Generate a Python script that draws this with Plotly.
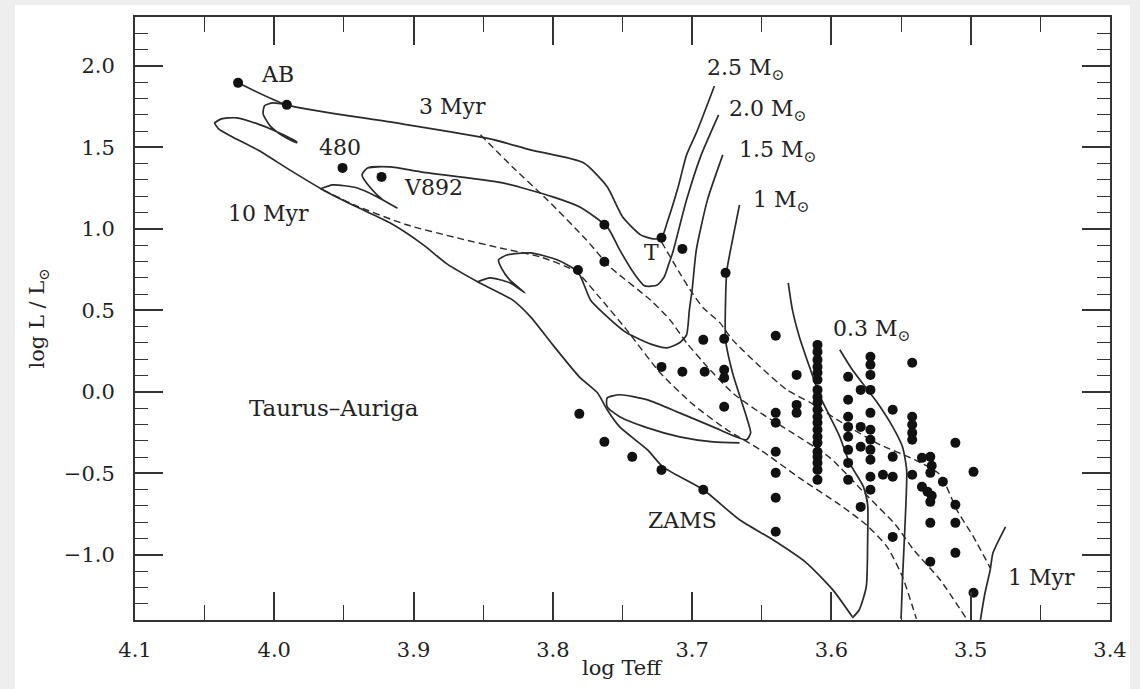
import plotly.graph_objects as go

# ---------------- evolutionary tracks (log Teff, log L/Lsun) ----------------
trk25_t = [4.026, 3.991, 3.917, 3.845, 3.816, 3.778, 3.761, 3.750, 3.737, 3.728,
           3.722, 3.718, 3.710, 3.704, 3.697, 3.684]
trk25_l = [1.896, 1.761, 1.656, 1.552, 1.485, 1.405, 1.258, 1.074, 0.963, 0.939,
           0.945, 1.037, 1.258, 1.454, 1.589, 1.877]

hook25_t = [3.991, 4.001, 4.007, 4.008, 4.003, 3.994, 3.984, 3.984, 4.001, 4.012,
            4.027, 4.038, 4.043]
hook25_l = [1.761, 1.773, 1.755, 1.706, 1.632, 1.571, 1.528, 1.534, 1.607, 1.644,
            1.681, 1.675, 1.650]

trk20_t = [3.681, 3.694, 3.704, 3.714, 3.717, 3.720, 3.725, 3.734, 3.742, 3.752,
           3.761, 3.781, 3.800, 3.836, 3.895, 3.917, 3.933, 3.937, 3.931, 3.922,
           3.912, 3.926, 3.941, 3.958, 3.967]
trk20_l = [1.699, 1.442, 1.178, 0.853, 0.779, 0.706, 0.656, 0.650, 0.730, 0.871,
           1.012, 1.135, 1.196, 1.282, 1.350, 1.380, 1.374, 1.331, 1.252, 1.178,
           1.129, 1.196, 1.252, 1.270, 1.245]

trk15_t = [3.678, 3.689, 3.697, 3.700, 3.702, 3.704, 3.709, 3.718, 3.728, 3.747,
           3.764, 3.773, 3.782, 3.797, 3.816, 3.833, 3.839, 3.837, 3.831, 3.820,
           3.831, 3.845, 3.854]
trk15_l = [1.454, 1.178, 0.871, 0.626, 0.503, 0.350, 0.301, 0.270, 0.288, 0.362,
           0.485, 0.564, 0.736, 0.810, 0.853, 0.840, 0.810, 0.761, 0.687, 0.607,
           0.669, 0.699, 0.675]

trk10_t = [3.666, 3.671, 3.675, 3.676, 3.676, 3.671, 3.661, 3.658, 3.661, 3.685,
           3.709, 3.732, 3.752, 3.761, 3.761, 3.752, 3.732, 3.709, 3.685, 3.666]
trk10_l = [1.147, 0.933, 0.748, 0.564, 0.319, 0.117, -0.153, -0.252, -0.294, -0.215,
           -0.129, -0.049, -0.018, -0.037, -0.092, -0.153, -0.221, -0.276, -0.307, -0.313]

trk06_t = [3.631, 3.628, 3.623, 3.615, 3.608, 3.601, 3.594, 3.587, 3.577, 3.574,
           3.574, 3.575, 3.580, 3.585]
trk06_l = [0.669, 0.503, 0.337, 0.135, -0.031, -0.153, -0.276, -0.436, -0.583, -0.693,
           -0.908, -1.196, -1.337, -1.387]

trk03_t = [3.594, 3.585, 3.567, 3.556, 3.549, 3.546, 3.547, 3.549, 3.550]
trk03_l = [0.258, 0.135, -0.067, -0.215, -0.337, -0.479, -0.785, -1.153, -1.393]

trk01_t = [3.475, 3.484, 3.486, 3.490, 3.493]
trk01_l = [-0.828, -0.988, -1.092, -1.245, -1.399]

# zero-age main sequence
zams_t = [4.043, 4.040, 4.030, 4.012, 3.989, 3.965, 3.941, 3.917, 3.893, 3.876,
          3.854, 3.829, 3.816, 3.800, 3.781, 3.768, 3.761, 3.752, 3.732, 3.721,
          3.692, 3.666, 3.642, 3.618, 3.599, 3.585]
zams_l = [1.650, 1.613, 1.564, 1.485, 1.362, 1.239, 1.135, 1.037, 0.902, 0.785,
          0.675, 0.564, 0.460, 0.288, 0.092, -0.006, -0.110, -0.215, -0.356, -0.460,
          -0.601, -0.785, -0.908, -1.049, -1.215, -1.380]

# ---------------- isochrones ----------------
iso1_t = [3.722, 3.709, 3.700, 3.692, 3.680, 3.671, 3.651, 3.632, 3.615, 3.590,
          3.565, 3.540, 3.522, 3.510, 3.498, 3.486]
iso1_l = [0.920, 0.730, 0.607, 0.515, 0.423, 0.319, 0.153, 0.012, -0.067, -0.202,
          -0.325, -0.417, -0.509, -0.724, -0.890, -1.080]

iso3_t = [3.852, 3.829, 3.804, 3.776, 3.759, 3.730, 3.716, 3.704, 3.689, 3.671,
          3.651, 3.628, 3.601, 3.575, 3.554, 3.541, 3.522, 3.503]
iso3_l = [1.577, 1.380, 1.178, 0.933, 0.767, 0.564, 0.442, 0.301, 0.153, -0.006,
          -0.129, -0.252, -0.405, -0.632, -0.816, -0.969, -1.153, -1.393]

iso10_t = [3.965, 3.941, 3.905, 3.869, 3.838, 3.809, 3.783, 3.768, 3.747, 3.723,
           3.699, 3.675, 3.651, 3.623, 3.594, 3.575, 3.560, 3.549, 3.539]
iso10_l = [1.239, 1.141, 1.025, 0.945, 0.883, 0.828, 0.736, 0.595, 0.380, 0.117,
           -0.080, -0.233, -0.356, -0.528, -0.693, -0.816, -0.951, -1.135, -1.393]

# ---------------- Taurus-Auriga stars ----------------
star_t = [4.026, 3.991, 3.951, 3.923, 3.763, 3.722, 3.707, 3.763, 3.782, 3.676,
          3.692, 3.677, 3.640, 3.722, 3.707, 3.691, 3.677, 3.677, 3.677, 3.781,
          3.763, 3.743, 3.722, 3.692,
          3.640, 3.640, 3.640, 3.640, 3.640, 3.640,
          3.625, 3.625, 3.625,
          3.610, 3.610, 3.610, 3.610, 3.610, 3.610, 3.610, 3.610, 3.610, 3.610,
          3.610, 3.610, 3.610, 3.610, 3.610, 3.610, 3.610, 3.610, 3.610, 3.610,
          3.588, 3.588, 3.588, 3.588, 3.588, 3.588, 3.588, 3.588,
          3.579, 3.579, 3.579, 3.579,
          3.572, 3.572, 3.572, 3.572, 3.572, 3.572, 3.572, 3.572, 3.572, 3.572, 3.572,
          3.556, 3.556, 3.556, 3.556, 3.563,
          3.542, 3.542, 3.542, 3.542, 3.542, 3.542,
          3.535, 3.529, 3.528, 3.529, 3.535, 3.531, 3.528, 3.529,
          3.520, 3.511, 3.498, 3.511, 3.511, 3.511, 3.529, 3.529, 3.498]
star_l = [1.896, 1.761, 1.374, 1.319, 1.025, 0.945, 0.877, 0.798, 0.748, 0.730,
          0.319, 0.325, 0.344, 0.153, 0.123, 0.123, 0.135, 0.086, -0.092, -0.135,
          -0.307, -0.399, -0.479, -0.601,
          -0.129, -0.190, -0.368, -0.497, -0.650, -0.859,
          0.104, -0.080, -0.129,
          0.288, 0.245, 0.196, 0.153, 0.117, 0.074, 0.012, -0.031, -0.067, -0.110,
          -0.153, -0.190, -0.233, -0.276, -0.313, -0.368, -0.399, -0.436, -0.479, -0.540,
          0.092, -0.049, -0.153, -0.215, -0.276, -0.356, -0.436, -0.540,
          0.012, -0.215, -0.337, -0.706,
          0.215, 0.166, 0.104, 0.012, -0.129, -0.233, -0.294, -0.356, -0.417, -0.521, -0.601,
          -0.110, -0.399, -0.521, -0.890, -0.509,
          0.178, -0.153, -0.202, -0.252, -0.294, -0.509,
          -0.405, -0.399, -0.454, -0.497, -0.583, -0.613, -0.638, -0.675,
          -0.552, -0.313, -0.491, -0.693, -0.804, -0.988, -0.804, -1.043, -1.233]

LINE = "#2a2a2a"
FONT = "DejaVu Serif"

fig = go.Figure()

# solid lines: mass tracks and the ZAMS
solid = [(trk25_t, trk25_l), (hook25_t, hook25_l), (trk20_t, trk20_l),
         (trk15_t, trk15_l), (trk10_t, trk10_l), (trk06_t, trk06_l),
         (trk03_t, trk03_l), (trk01_t, trk01_l), (zams_t, zams_l)]
for xs, ys in solid:
    fig.add_trace(go.Scatter(x=xs, y=ys, mode="lines",
                             line=dict(color=LINE, width=1.7, shape="spline", smoothing=0.6),
                             hoverinfo="skip", showlegend=False))

# dashed lines: isochrones
for xs, ys in [(iso1_t, iso1_l), (iso3_t, iso3_l), (iso10_t, iso10_l)]:
    fig.add_trace(go.Scatter(x=xs, y=ys, mode="lines",
                             line=dict(color=LINE, width=1.4, dash="7px,4px",
                                       shape="spline", smoothing=0.6),
                             hoverinfo="skip", showlegend=False))

fig.add_trace(go.Scatter(x=star_t, y=star_l, mode="markers",
                         marker=dict(color="#111111", size=10),
                         showlegend=False))

labels = [
    ("AB", 3.998, 1.945, "center", 22),
    ("3 Myr", 3.872, 1.748, "center", 22),
    ("480", 3.953, 1.497, "center", 22),
    ("V892", 3.886, 1.252, "center", 22),
    ("10 Myr", 4.004, 1.092, "center", 22),
    ("2.5 M<sub>\u2299</sub>", 3.691, 1.975, "left", 22),
    ("2.0 M<sub>\u2299</sub>", 3.675, 1.728, "left", 22),
    ("1.5 M<sub>\u2299</sub>", 3.668, 1.477, "left", 22),
    ("1 M<sub>\u2299</sub>", 3.658, 1.170, "left", 22),
    ("T", 3.729, 0.853, "center", 22),
    ("0.3 M<sub>\u2299</sub>", 3.600, 0.379, "left", 22),
    ("Taurus\u2013Auriga", 3.957, -0.098, "center", 23),
    ("ZAMS", 3.707, -0.791, "center", 22),
    ("1 Myr", 3.449, -1.141, "center", 22),
]
for txt, x, y, anchor, size in labels:
    fig.add_annotation(x=x, y=y, xref="x", yref="y", text=txt, showarrow=False,
                       xanchor=anchor, yanchor="middle",
                       font=dict(family=FONT, size=size, color="#222"))

# axis titles
fig.add_annotation(x=0.5, y=-0.08, xref="paper", yref="paper", text="log Teff",
                   showarrow=False, xanchor="center", yanchor="middle",
                   font=dict(family=FONT, size=21, color="#222"))
fig.add_annotation(x=-0.0995, y=0.5, xref="paper", yref="paper",
                   text="log L / L<sub>\u2299</sub>", textangle=-90,
                   showarrow=False, xanchor="center", yanchor="middle",
                   font=dict(family=FONT, size=21, color="#222"))

# white card over the light grey page edge
fig.add_shape(type="rect", xref="paper", yref="paper",
              x0=-0.1231, x1=1.0205, y0=-0.1144, y1=1.0199,
              fillcolor="white", line=dict(width=0), layer="below")

axis_common = dict(showgrid=False, zeroline=False, showline=True, linecolor="#333",
                   linewidth=2, mirror="ticks", ticks="inside", tickcolor="#333",
                   tickwidth=1.5, tickfont=dict(family=FONT, size=21, color="#222"),
                   tickformat=".1f")

fig.update_xaxes(range=[4.1, 3.4], tick0=4.1, dtick=0.1, ticklen=28,
                 ticklabelstandoff=10,
                 minor=dict(dtick=0.05, ticklen=15, tickwidth=1.2, ticks="inside",
                            tickcolor="#333"),
                 **axis_common)
fig.update_yaxes(range=[-1.4, 2.3], tick0=0, dtick=0.5, ticklen=28,
                 ticklabelstandoff=14,
                 minor=dict(dtick=0.1, ticklen=13, tickwidth=1.2, ticks="inside",
                            tickcolor="#333"),
                 **axis_common)

fig.update_layout(width=1140, height=689,
                  margin=dict(l=135, r=30, t=17, b=69),
                  paper_bgcolor="#eeeeee", plot_bgcolor="white",
                  font=dict(family=FONT, color="#222"))

fig.write_html("out.html")
